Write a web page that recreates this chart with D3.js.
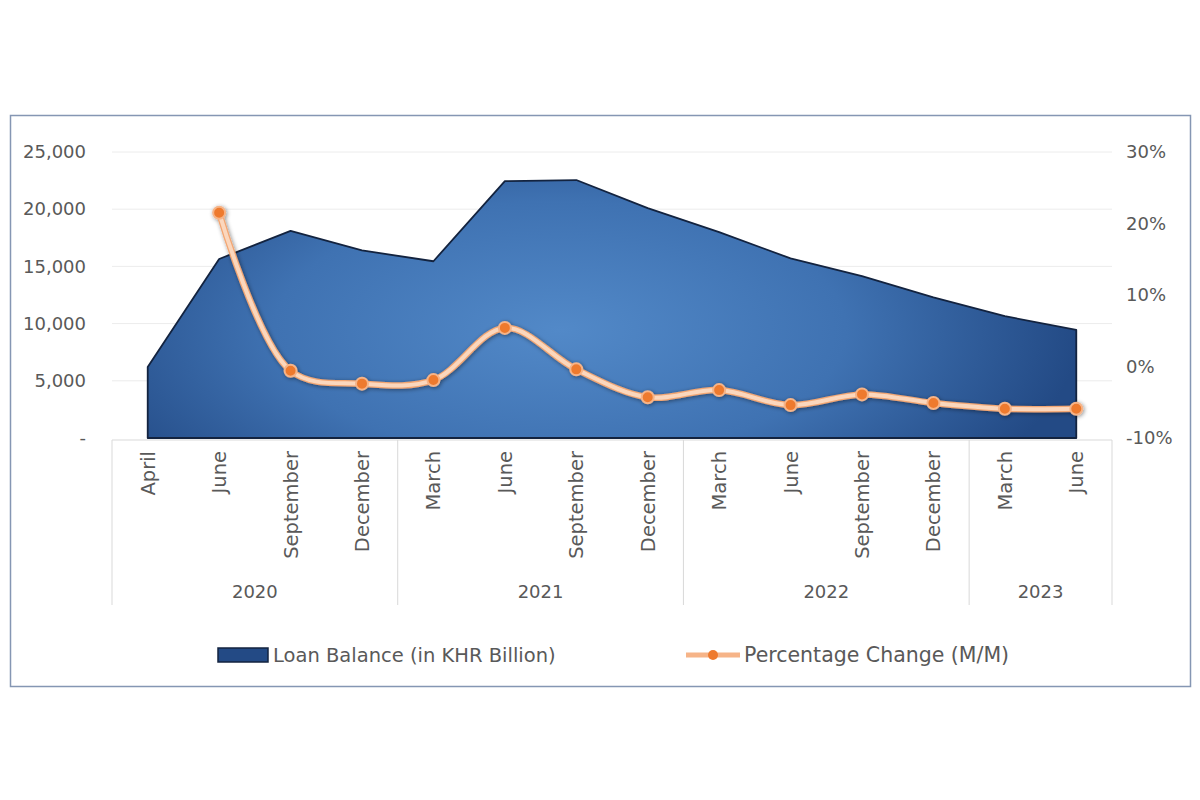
<!DOCTYPE html>
<html>
<head>
<meta charset="utf-8">
<script src="https://cdn.jsdelivr.net/npm/d3@7"></script>
<style>
  body { margin: 0; background: #fff; }
  text { font-family: "DejaVu Sans", "Open Sans", sans-serif; fill: #595959; }
</style>
</head>
<body>
<div class="chart"></div>
<script>
const months = ["April", "June", "September", "December",
  "March", "June", "September", "December",
  "March", "June", "September", "December",
  "March", "June"];
const years = ["2020", "2020", "2020", "2020", "2021", "2021", "2021", "2021",
  "2022", "2022", "2022", "2022", "2023", "2023"];
const loanBalance = [6200, 15650, 18100, 16400, 15450, 22450, 22550, 20100,
  18000, 15700, 14150, 12300, 10650, 9450];
const pctChange = [null, 21.5, -0.6, -2.4, -1.9, 5.4, -0.4, -4.3,
  -3.3, -5.4, -3.9, -5.1, -5.9, -5.9];
const leftTicks = [0, 5000, 10000, 15000, 20000, 25000];
const rightTicks = [-10, 0, 10, 20, 30];

const W = 1200, H = 800;
const plot = { left: 112, right: 1112, top: 152, bottom: 438 };

const svg = d3.select(".chart")
  .append("svg")
  .attr("width", W)
  .attr("height", H);

const defs = svg.append("defs");
const grad = defs.append("radialGradient")
  .attr("id", "areaGrad")
  .attr("gradientUnits", "userSpaceOnUse")
  .attr("cx", 560).attr("cy", 330).attr("r", 520)
  .attr("gradientTransform", "translate(560,330) scale(1,0.45) translate(-560,-330)");
grad.append("stop").attr("offset", "0%").attr("stop-color", "#5289c8");
grad.append("stop").attr("offset", "55%").attr("stop-color", "#3f72b2");
grad.append("stop").attr("offset", "100%").attr("stop-color", "#234a85");

const shadow = defs.append("filter").attr("id", "shadow")
  .attr("x", "-50%").attr("y", "-50%").attr("width", "200%").attr("height", "200%");
shadow.append("feDropShadow")
  .attr("dx", 1).attr("dy", 1).attr("stdDeviation", 2)
  .attr("flood-color", "#000").attr("flood-opacity", 0.45);

// outer frame
svg.append("rect")
  .attr("x", 10.5).attr("y", 115.5)
  .attr("width", 1180).attr("height", 571)
  .attr("fill", "none")
  .attr("stroke", "#8596b3")
  .attr("stroke-width", 1.5);

const idx = d3.range(months.length);
const xScale = d3.scaleBand()
  .domain(idx)
  .range([plot.left, plot.right]);
const xc = i => xScale(i) + xScale.bandwidth() / 2;

const yLeft = d3.scaleLinear().domain([0, 25000]).range([plot.bottom, plot.top]);
const yRight = d3.scaleLinear().domain([-10, 30]).range([plot.bottom, plot.top]);

// gridlines
svg.append("g")
  .selectAll("line")
  .data(leftTicks.slice(1))
  .join("line")
  .attr("x1", plot.left).attr("x2", plot.right)
  .attr("y1", d => yLeft(d)).attr("y2", d => yLeft(d))
  .attr("stroke", "#ececec")
  .attr("stroke-width", 1);

// left axis
const leftAxis = d3.axisLeft(yLeft)
  .tickValues(leftTicks)
  .tickSize(0)
  .tickPadding(0)
  .tickFormat(d => d === 0 ? "-" : d3.format(",")(d));
svg.append("g")
  .attr("class", "axis y-left")
  .attr("transform", `translate(86,0)`)
  .call(leftAxis)
  .call(g => g.select(".domain").remove())
  .selectAll("text")
  .attr("font-size", 18)
  .attr("fill", "#595959");

// right axis
const rightAxis = d3.axisRight(yRight)
  .tickValues(rightTicks)
  .tickSize(0)
  .tickPadding(0)
  .tickFormat(d => d + "%");
svg.append("g")
  .attr("class", "axis y-right")
  .attr("transform", `translate(1126,0)`)
  .call(rightAxis)
  .call(g => g.select(".domain").remove())
  .selectAll("text")
  .attr("font-size", 18)
  .attr("fill", "#595959");

// area
const area = d3.area()
  .x((d, i) => xc(i))
  .y0(yLeft(0))
  .y1(d => yLeft(d));
svg.append("path")
  .datum(loanBalance)
  .attr("d", area)
  .attr("fill", "url(#areaGrad)")
  .attr("stroke", "#13233f")
  .attr("stroke-width", 1.8)
  .attr("stroke-linejoin", "round");

// category axis
const axisG = svg.append("g").attr("class", "axis x-axis");
axisG.append("line")
  .attr("x1", plot.left).attr("x2", plot.right)
  .attr("y1", plot.bottom + 2).attr("y2", plot.bottom + 2)
  .attr("stroke", "#d9d9d9");

const yearGroups = d3.groups(idx, i => years[i]);
const bounds = [plot.left];
yearGroups.forEach(([, ids]) => bounds.push(xScale(ids[ids.length - 1]) + xScale.bandwidth()));
axisG.selectAll(".sep")
  .data(bounds)
  .join("line")
  .attr("class", "sep")
  .attr("x1", d => d).attr("x2", d => d)
  .attr("y1", plot.bottom + 2).attr("y2", 605)
  .attr("stroke", "#d9d9d9");

axisG.selectAll(".month")
  .data(idx)
  .join("text")
  .attr("class", "month")
  .attr("transform", i => `translate(${xc(i) + 7},${plot.bottom + 13}) rotate(-90)`)
  .attr("text-anchor", "end")
  .attr("font-size", 19.5)
  .text(i => months[i]);

axisG.selectAll(".year")
  .data(yearGroups)
  .join("text")
  .attr("class", "year")
  .attr("x", ([, ids]) => (xScale(ids[0]) + xScale(ids[ids.length - 1]) + xScale.bandwidth()) / 2)
  .attr("y", 598)
  .attr("text-anchor", "middle")
  .attr("font-size", 18)
  .text(([y]) => y);

// percentage line
const pctData = idx.filter(i => pctChange[i] !== null);
const line = d3.line()
  .x(i => xc(i))
  .y(i => yRight(pctChange[i]))
  .curve(d3.curveCatmullRom.alpha(0.5));

const lineG = svg.append("g").attr("filter", "url(#shadow)");
lineG.append("path")
  .datum(pctData)
  .attr("d", line)
  .attr("fill", "none")
  .attr("stroke", "#f2a673")
  .attr("stroke-width", 6.5)
  .attr("stroke-linecap", "round");
lineG.append("path")
  .datum(pctData)
  .attr("d", line)
  .attr("fill", "none")
  .attr("stroke", "#fbd7bd")
  .attr("stroke-width", 4)
  .attr("stroke-linecap", "round");
lineG.selectAll("circle")
  .data(pctData)
  .join("circle")
  .attr("cx", i => xc(i))
  .attr("cy", i => yRight(pctChange[i]))
  .attr("r", 6)
  .attr("fill", "#ee7a2e")
  .attr("stroke", "#f6b488")
  .attr("stroke-width", 2);

// legend
const legend = svg.append("g").attr("class", "legend");
legend.append("rect")
  .attr("x", 218).attr("y", 648)
  .attr("width", 50).attr("height", 14)
  .attr("fill", "url(#areaGrad)")
  .attr("stroke", "#13233f")
  .attr("stroke-width", 1.5);
legend.append("text")
  .attr("x", 273).attr("y", 662)
  .attr("font-size", 19.5)
  .attr("fill", "#404040")
  .text("Loan Balance (in KHR Billion)");

legend.append("line")
  .attr("x1", 686).attr("x2", 740)
  .attr("y1", 655).attr("y2", 655)
  .attr("stroke", "#f6b488")
  .attr("stroke-width", 5);
legend.append("circle")
  .attr("cx", 713).attr("cy", 655)
  .attr("r", 5)
  .attr("fill", "#ee7a2e");
legend.append("text")
  .attr("x", 744).attr("y", 662)
  .attr("font-size", 20.5)
  .attr("fill", "#404040")
  .text("Percentage Change (M/M)");
</script>
</body>
</html>
